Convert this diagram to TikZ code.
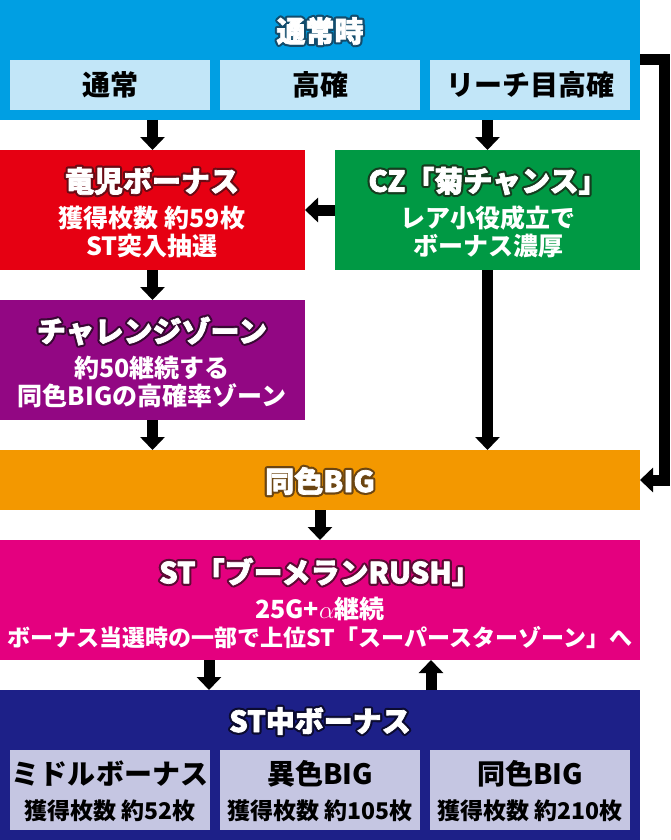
\documentclass[tikz,border=0pt]{standalone}
\usepackage{fontspec}
\setmainfont{Noto Sans CJK JP}
\usetikzlibrary{positioning,arrows.meta}

\definecolor{cNormal}{HTML}{009FE3}
\definecolor{cNormalSub}{HTML}{C2E6F8}
\definecolor{cNormalDk}{HTML}{124C6C}
\definecolor{cRyuji}{HTML}{E60012}
\definecolor{cRyujiDk}{HTML}{6A0A14}
\definecolor{cCz}{HTML}{009944}
\definecolor{cCzDk}{HTML}{153C1F}
\definecolor{cChallenge}{HTML}{920783}
\definecolor{cChallengeDk}{HTML}{380833}
\definecolor{cBig}{HTML}{F39800}
\definecolor{cBigDk}{HTML}{6B4512}
\definecolor{cRush}{HTML}{E4007F}
\definecolor{cRushDk}{HTML}{5C0A34}
\definecolor{cStBonus}{HTML}{1D2088}
\definecolor{cStSub}{HTML}{C5C6E2}
\definecolor{cStBonusDk}{HTML}{0B0B30}

% outlined title: dark stroke under, white (slightly emboldened) on top
\newcommand{\boxtitle}[2]{\leavevmode\rlap{\color{#1}\special{pdf:literal direct 2 Tr 5 w 1 j}#2\special{pdf:literal direct 0 Tr}}{\special{pdf:literal direct 2 Tr 0.7 w}#2\special{pdf:literal direct 0 Tr}}}

\begin{document}
\begin{tikzpicture}[x=1pt, y=-1pt, >={Triangle[width=24pt,length=13pt]},
  panel/.style={minimum width=640pt, inner sep=0pt, outer sep=0pt},
  halfbox/.style={minimum width=305pt, minimum height=120pt, inner sep=0pt, outer sep=0pt},
  subbox/.style={minimum width=200pt, inner sep=0pt, outer sep=0pt, anchor=north west},
  title/.style={font=\bfseries\fontsize{29}{31}\selectfont, text=white, inner sep=0pt},
  body/.style={font=\bfseries\fontsize{25}{28}\selectfont, text=white, align=center, inner sep=0pt},
  subtitle/.style={font=\bfseries\fontsize{28}{30}\selectfont, text=black, inner sep=0pt},
  subbody/.style={font=\bfseries\fontsize{23}{25}\selectfont, text=black, inner sep=0pt},
  flow/.style={->, line width=11pt}]
\useasboundingbox (0,0) rectangle (670,840);

% boxes
\node[panel, fill=cNormal, minimum height=120pt, anchor=north west] (normal) at (0,0) {};
\node[halfbox, fill=cRyuji, below=30pt of normal.south west, anchor=north west] (ryuji) {};
\node[halfbox, fill=cCz, below=30pt of normal.south east, anchor=north east] (cz) {};
\node[halfbox, fill=cChallenge, below=30pt of ryuji] (challenge) {};
\node[panel, fill=cBig, minimum height=60pt, below=30pt of challenge.south west, anchor=north west] (big) {};
\node[panel, fill=cRush, minimum height=120pt, below=30pt of big] (rush) {};
\node[panel, fill=cStBonus, minimum height=150pt, below=30pt of rush] (stbonus) {};

% normal state
\node[title] (normalTitle) at (320,31) {\boxtitle{cNormalDk}{通常時}};
\node[subbox, subtitle, fill=cNormalSub, minimum height=50pt] (tsujo) at (10,60) {通常};
\node[subbox, subtitle, fill=cNormalSub, minimum height=50pt] (koukaku) at (220,60) {高確};
\node[subbox, subtitle, fill=cNormalSub, minimum height=50pt] (reach) at (430,60) {リーチ目高確};

% ryuji bonus / cz
\node[title] (ryujiTitle) at (152,181) {\boxtitle{cRyujiDk}{竜児ボーナス}};
\node[body] (ryujiBody) at (152,232) {獲得枚数 約59枚\\ST突入抽選};
\node[title] (czTitle) at (488,181) {\boxtitle{cCzDk}{CZ「菊チャンス」}};
\node[body] (czBody) at (488,232) {レア小役成立で\\ボーナス濃厚};

% challenge zone
\node[title] (challengeTitle) at (152,331) {\boxtitle{cChallengeDk}{チャレンジゾーン}};
\node[body] (challengeBody) at (152,382) {約50継続する\\同色BIGの高確率ゾーン};

% same colour big
\node[title] (bigTitle) at (320,481) {\boxtitle{cBigDk}{同色BIG}};

% boomerang rush
\node[title] (rushTitle) at (320,572) {\boxtitle{cRushDk}{ST「ブーメランRUSH」}};
\node[body, font=\bfseries\fontsize{23}{28}\selectfont] (rushBody) at (320,623) {{\fontsize{25}{28}\selectfont 25G+$\alpha$継続}\\ボーナス当選時の一部で上位ST「スーパースターゾーン」へ};

% bonus during st
\node[title] (stTitle) at (320,721) {\boxtitle{cStBonusDk}{ST中ボーナス}};
\node[subbox, fill=cStSub, minimum height=80pt] (middle) at (10,750) {};
\node[subbox, fill=cStSub, minimum height=80pt] (diffBig) at (220,750) {};
\node[subbox, fill=cStSub, minimum height=80pt] (sameBig) at (430,750) {};
\node[subtitle] (middleTitle) at (110,774) {ミドルボーナス};
\node[subbody] (middleGain) at (110,811) {獲得枚数 約52枚};
\node[subtitle] (diffBigTitle) at (320,774) {異色BIG};
\node[subbody] (diffBigGain) at (320,811) {獲得枚数 約105枚};
\node[subtitle] (sameBigTitle) at (530,774) {同色BIG};
\node[subbody] (sameBigGain) at (530,811) {獲得枚数 約210枚};

% connectors
\draw[flow] (ryuji.north |- normal.south) -- (ryuji.north);
\draw[flow] (cz.north |- normal.south) -- (cz.north);
\draw[flow] (cz.west) -- (ryuji.east);
\draw[flow] (ryuji) -- (challenge);
\draw[flow] (challenge.south) -- (challenge.south |- big.north);
\draw[flow] (cz.south) -- (cz.south |- big.north);
\draw[flow] (normal.east) -- ++(24,0) |- (big.east);
\draw[flow] (big) -- (rush);
\draw[flow] ([xshift=-111pt]rush.south) -- ([xshift=-111pt]stbonus.north);
\draw[flow] ([xshift=111pt]stbonus.north) -- ([xshift=111pt]rush.south);
\end{tikzpicture}
\end{document}
